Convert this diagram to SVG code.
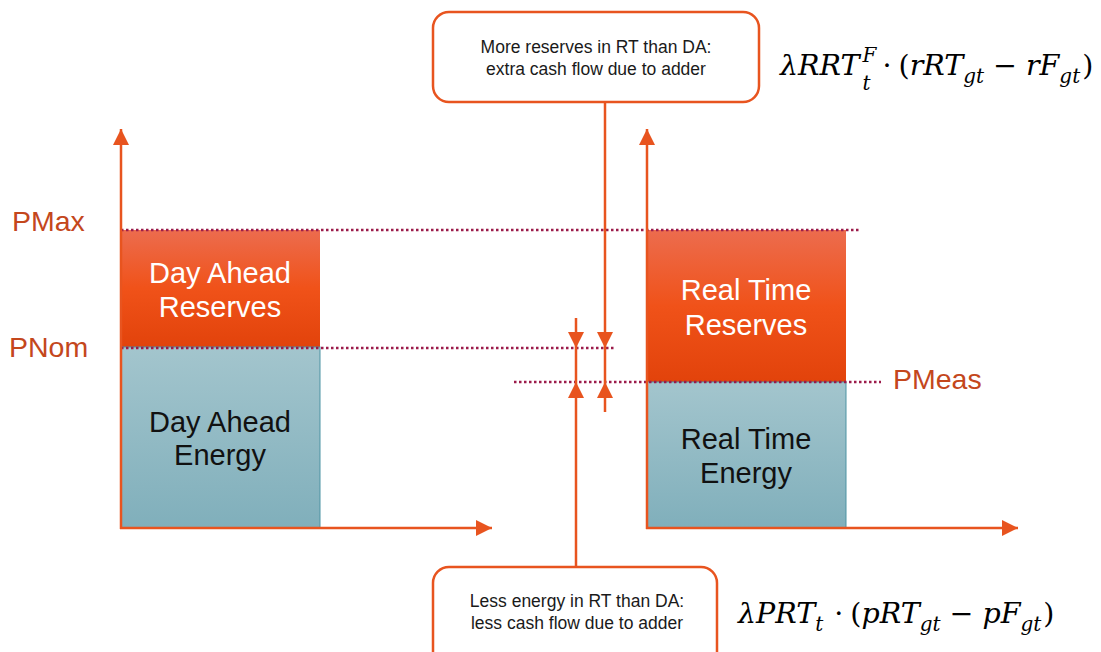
<svg xmlns="http://www.w3.org/2000/svg" width="1101" height="652" viewBox="0 0 1101 652">
  <defs>
    <linearGradient id="gReserve" x1="0" y1="0" x2="0" y2="1">
      <stop offset="0" stop-color="#EC6C4E"/>
      <stop offset="0.5" stop-color="#F05219"/>
      <stop offset="1" stop-color="#E2430B"/>
    </linearGradient>
    <linearGradient id="gEnergy" x1="0" y1="0" x2="0" y2="1">
      <stop offset="0" stop-color="#A3C5CD"/>
      <stop offset="1" stop-color="#80AFBB"/>
    </linearGradient>
    <marker id="head" viewBox="0 0 10 10" refX="10" refY="5" markerWidth="16" markerHeight="16" markerUnits="userSpaceOnUse" orient="auto">
      <path d="M0,0 L10,5 L0,10 Z" fill="#E8541F"/>
    </marker>
  </defs>
  <style>
    .axis { stroke: #E8541F; stroke-width: 2.5; fill: none; }
    .dot { stroke: #9B1B4A; stroke-width: 2.5; stroke-dasharray: 2.5 2.5; fill: none; }
    .lvl { font-family: "Liberation Sans", Arial, sans-serif; font-size: 28.5px; fill: #C4471C; }
    .barW { font-family: "Liberation Sans", Arial, sans-serif; font-size: 29px; fill: #FFFFFF; text-anchor: middle; }
    .barB { font-family: "Liberation Sans", Arial, sans-serif; font-size: 29px; fill: #111111; text-anchor: middle; }
    .note { fill: #FFFFFF; stroke: #E8541F; stroke-width: 2.5; }
    .noteT { font-family: "Liberation Sans", Arial, sans-serif; font-size: 17.5px; fill: #1A1A1A; text-anchor: middle; }
    .math { font-family: "DejaVu Serif", "Liberation Serif", serif; font-style: italic; font-size: 28.5px; fill: #000000; }
    .s { font-size: 20px; }
    .up { font-style: normal; }
  </style>

  <!-- bars -->
  <g id="da-reserves">
    <rect x="121" y="230" width="199" height="117" fill="url(#gReserve)"/>
    <text class="barW" x="220" y="283">Day Ahead</text>
    <text class="barW" x="220" y="317">Reserves</text>
  </g>
  <g id="da-energy">
    <rect x="121" y="347" width="199" height="181" fill="url(#gEnergy)" stroke="#4C93A3" stroke-width="1"/>
    <text class="barB" x="220" y="432">Day Ahead</text>
    <text class="barB" x="220" y="465">Energy</text>
  </g>
  <g id="rt-reserves">
    <rect x="647" y="230" width="199" height="152" fill="url(#gReserve)"/>
    <text class="barW" x="746" y="300">Real Time</text>
    <text class="barW" x="746" y="335">Reserves</text>
  </g>
  <g id="rt-energy">
    <rect x="647" y="382" width="199" height="146" fill="url(#gEnergy)" stroke="#4C93A3" stroke-width="1"/>
    <text class="barB" x="746" y="449">Real Time</text>
    <text class="barB" x="746" y="483">Energy</text>
  </g>

  <!-- level lines and labels -->
  <g id="levels">
    <line class="dot" x1="121" y1="230" x2="860" y2="230"/>
    <line class="dot" x1="121" y1="348" x2="614" y2="348"/>
    <line class="dot" x1="514" y1="382" x2="881" y2="382"/>
    <text class="lvl" x="12" y="231">PMax</text>
    <text class="lvl" x="9" y="357">PNom</text>
    <text class="lvl" x="893" y="389">PMeas</text>
  </g>

  <!-- axes -->
  <g id="axes">
    <line class="axis" x1="121" y1="529" x2="121" y2="129" marker-end="url(#head)"/>
    <line class="axis" x1="120" y1="528" x2="492" y2="528" marker-end="url(#head)"/>
    <line class="axis" x1="647" y1="529" x2="647" y2="129" marker-end="url(#head)"/>
    <line class="axis" x1="646" y1="528" x2="1018" y2="528" marker-end="url(#head)"/>
  </g>

  <!-- callout boxes -->
  <g id="note-reserves">
    <rect class="note" x="433" y="12" width="326" height="90" rx="16"/>
    <text class="noteT" x="596" y="53">More reserves in RT than DA:</text>
    <text class="noteT" x="596" y="75">extra cash flow due to adder</text>
  </g>
  <g id="note-energy">
    <rect class="note" x="433" y="567" width="284" height="110" rx="16"/>
    <text class="noteT" x="577" y="607">Less energy in RT than DA:</text>
    <text class="noteT" x="577" y="629">less cash flow due to adder</text>
  </g>

  <!-- difference indicators -->
  <g id="connectors">
    <line class="axis" x1="576" y1="318" x2="576" y2="348" marker-end="url(#head)"/>
    <line class="axis" x1="576" y1="348" x2="576" y2="382"/>
    <line class="axis" x1="576" y1="567" x2="576" y2="382" marker-end="url(#head)"/>
    <line class="axis" x1="605" y1="102" x2="605" y2="348" marker-end="url(#head)"/>
    <line class="axis" x1="605" y1="348" x2="605" y2="382"/>
    <line class="axis" x1="605" y1="412" x2="605" y2="382" marker-end="url(#head)"/>
  </g>

  <!-- cash flow formulas: sub/superscripts follow their base glyphs -->
  <g id="formula-reserves">
    <text class="math" x="780" y="75">λRRT<tspan class="s" dx="3" dy="-13">F</tspan><tspan class="s" dx="-14" dy="28">t</tspan><tspan class="up" dx="12" dy="-15">·</tspan><tspan class="up" dx="7">(</tspan>rRT<tspan class="s" dy="8">gt</tspan><tspan class="up" dx="9" dy="-8">−</tspan><tspan dx="9">rF</tspan><tspan class="s" dy="8">gt</tspan><tspan class="up" dx="2" dy="-8">)</tspan></text>
  </g>
  <g id="formula-energy">
    <text class="math" x="738" y="623">λPRT<tspan class="s" dy="8">t</tspan><tspan class="up" dx="11" dy="-8">·</tspan><tspan class="up" dx="7">(</tspan>pRT<tspan class="s" dy="8">gt</tspan><tspan class="up" dx="9" dy="-8">−</tspan><tspan dx="9">pF</tspan><tspan class="s" dy="8">gt</tspan><tspan class="up" dx="2" dy="-8">)</tspan></text>
  </g>
</svg>
